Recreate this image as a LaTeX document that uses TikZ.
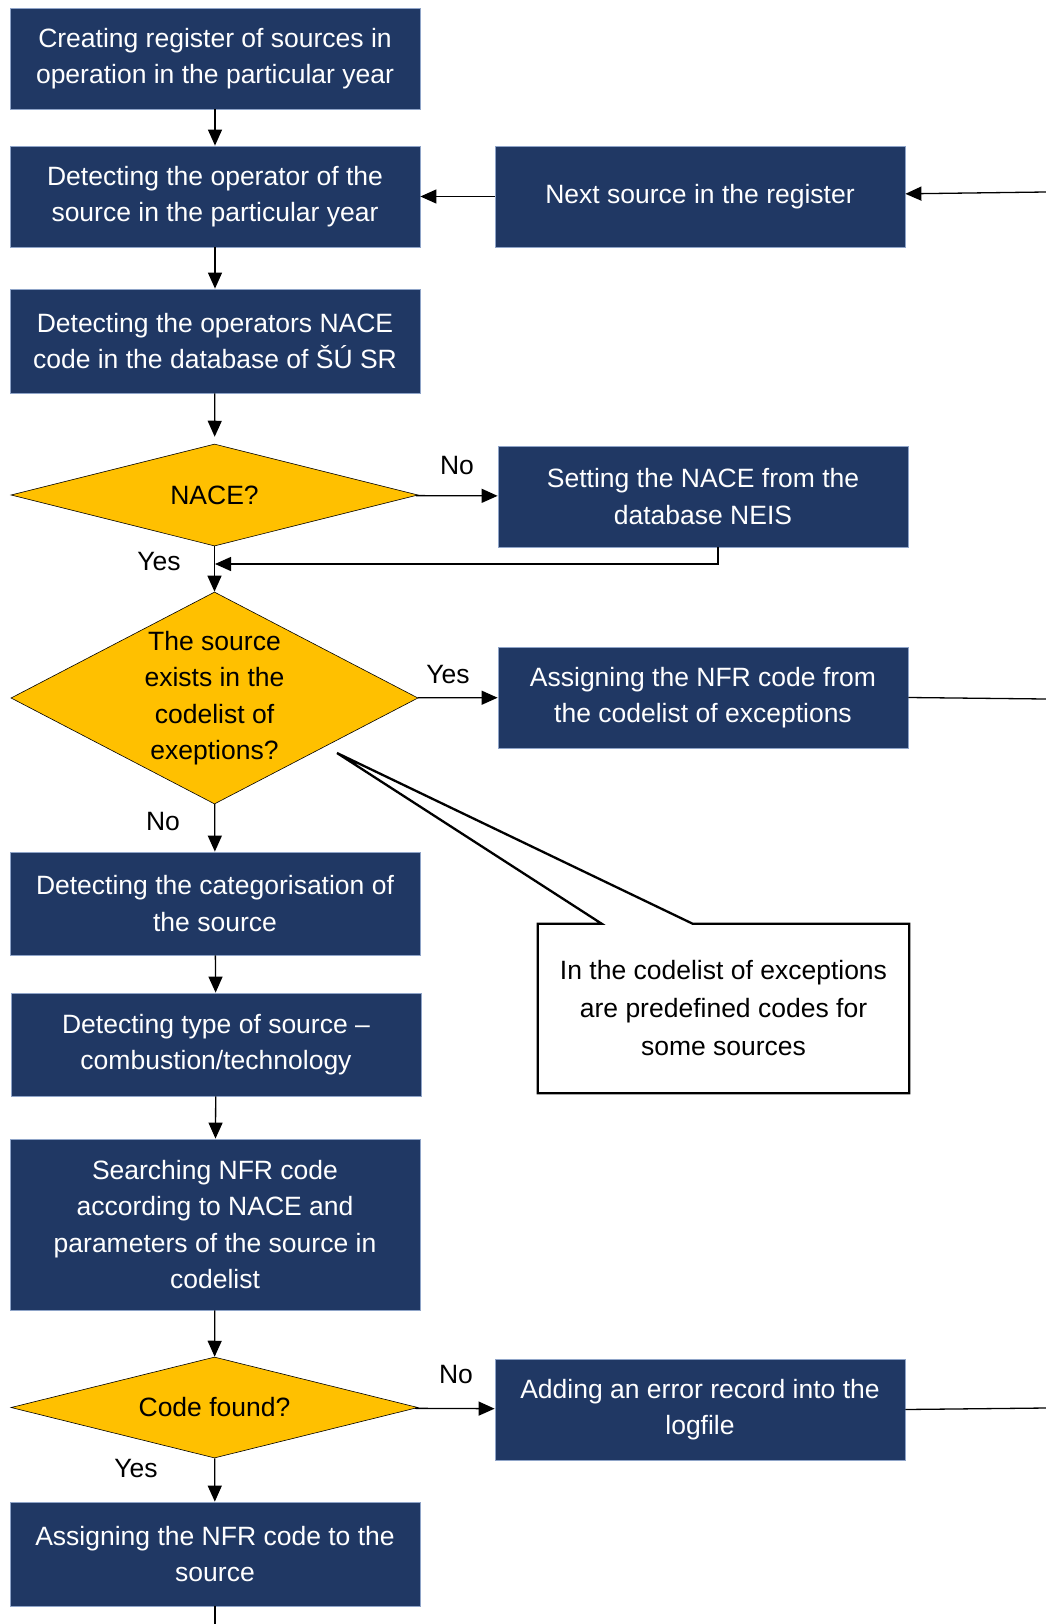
\documentclass[tikz,border=0pt]{standalone}
\usepackage{fontspec}
\setmainfont{Liberation Sans}
\usetikzlibrary{shapes.geometric,arrows.meta}
\definecolor{navy}{RGB}{32,56,100}
\definecolor{navyedge}{RGB}{143,164,200}
\definecolor{amber}{RGB}{255,192,0}
\tikzset{
  proc/.style={rectangle,fill=navy,draw=navyedge,line width=0.8pt,text=white,
    minimum width=410pt,minimum height=101pt,inner sep=0pt,align=center},
  dec/.style={diamond,fill=amber,draw=black,line width=0.6pt,aspect=4,
    minimum width=407pt,minimum height=102pt,inner sep=0pt,align=center},
  notebox/.style={rectangle,minimum width=371pt,minimum height=169pt,inner sep=0pt,align=center},
  flow/.style={line width=1.3pt,-{Triangle[length=16pt,width=14pt]}},
  wire/.style={line width=1.3pt},
  lbl/.style={inner sep=0pt}
}

\begin{document}
\begin{tikzpicture}[x=1pt,y=-1pt,font=\fontsize{26.5}{36.5}\selectfont]
    \useasboundingbox (0,0) rectangle (1046,1624);
    \node[proc](reg)at(215,58.5){Creating register of sources in\\operation in the particular year};
    \node[proc](oper)at(215,196.5){Detecting the operator of the\\source in the particular year};
    \node[proc](next)at(700,196.5){Next source in the register};
    \node[proc,minimum height=104pt](nace)at(215,341){Detecting the operators NACE\\code in the database of ŠÚ SR};
    \node[dec](d1)at(214.5,495){NACE?};
    \node[proc](neis)at(703,496.5){Setting the NACE from the\\database NEIS};
    \node[dec,aspect=1.92,minimum height=212pt](d2)at(214.5,698){The source\\exists in the\\codelist of\\exeptions?};
    \node[proc](exc)at(703,697.5){Assigning the NFR code from\\the codelist of exceptions};
    \node[proc,minimum height=103pt](categ)at(215,903.5){Detecting the categorisation of\\the source};
    \node[proc,minimum height=103pt](type)at(216,1044.5){Detecting type of source –\\combustion/technology};
    \node[proc,minimum height=171pt](search)at(215,1224.5){Searching NFR code\\according to NACE and\\parameters of the source in\\codelist};
    \node[dec,minimum height=101pt](d3)at(214.5,1407.5){Code found?};
    \node[proc](err)at(700,1409.5){Adding an error record into the\\logfile};
    \node[proc,minimum height=104pt](assign)at(215,1554){Assigning the NFR code to the\\source};
    \node[notebox,font=\fontsize{26.5}{38}\selectfont](note)at(723.5,1008.5){In the codelist of exceptions\\are predefined codes for\\some sources};
    \coordinate(loop)at(1046,192);
    \coordinate(j1)at(215,564);
    \coordinate(r1)at(1046,699);
    \coordinate(r2)at(1046,1408);
    \coordinate(bot)at(215,1624);
    \coordinate(tip)at(337,753);
    \draw[flow](reg)--(oper);
    \draw[flow](next)--(oper);
    \draw[flow](loop)--(next);
    \draw[flow](oper)--(nace);
    \draw[flow,shorten >=7pt](nace)--(d1);
    \draw[flow](d1)--(neis);
    \draw[flow]([xshift=15pt]neis.south)|-(j1);
    \draw[flow](d1)--(d2);
    \draw[flow](d2)--(exc);
    \draw[wire](exc.east)--(r1);
    \draw[flow](d2)--(categ);
    \draw[flow](categ)--(type);
    \draw[flow](type)--(search);
    \draw[flow](search)--(d3);
    \draw[flow](d3)--(err);
    \draw[wire](err.east)--(r2);
    \draw[flow](d3)--(assign);
    \draw[wire](assign)--(bot);
    \draw[line width=2.3pt](note.north west)--([xshift=64pt]note.north west)--(tip)--([xshift=155pt]note.north west)
        --(note.north east)--(note.south east)--(note.south west)--cycle;
    \node[lbl](no1)at(457,466){No};
    \node[lbl](yes1)at(159,562){Yes};
    \node[lbl](yes2)at(448,675){Yes};
    \node[lbl](no2)at(163,822){No};
    \node[lbl](no3)at(456,1374){No};
    \node[lbl](yes3)at(136,1468){Yes};
\end{tikzpicture}
\end{document}
